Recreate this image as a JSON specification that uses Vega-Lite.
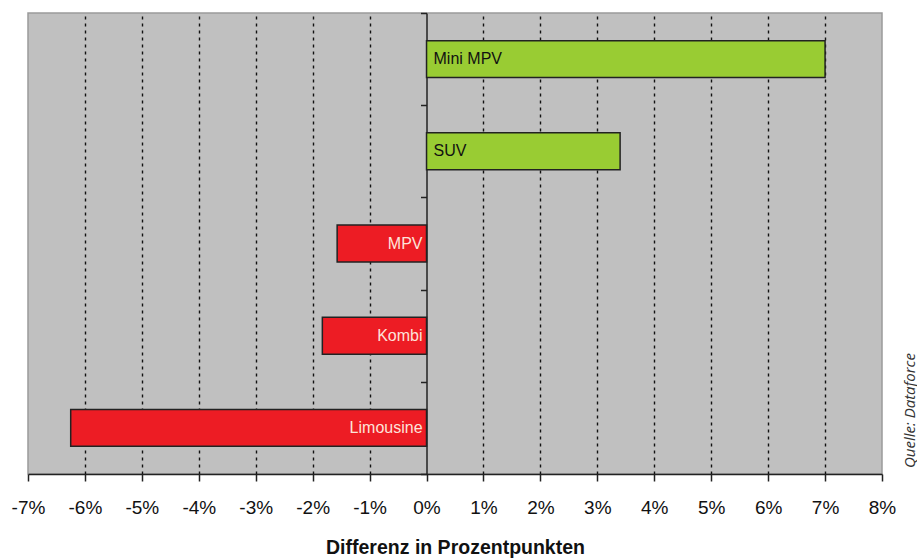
{
  "$schema": "https://vega.github.io/schema/vega-lite/v6.json",
  "width": 854,
  "height": 461,
  "autosize": {"type": "none"},
  "padding": {"left": 28, "top": 13, "right": 35, "bottom": 85},
  "background": "#ffffff",
  "config": {
    "font": "Liberation Sans",
    "view": {"fill": "#c0c0c0", "stroke": "#9a9a9a", "strokeWidth": 1.5}
  },
  "title": {
    "text": "Quelle: Dataforce",
    "orient": "right",
    "anchor": "end",
    "frame": "group",
    "angle": -90,
    "align": "left",
    "offset": -8,
    "dx": 6,
    "font": "Open Sans",
    "fontStyle": "italic",
    "fontWeight": "normal",
    "fontSize": 15,
    "color": "#333333"
  },
  "data": {
    "values": [
      {"segment": "Mini MPV", "value": 7.0},
      {"segment": "SUV", "value": 3.4},
      {"segment": "MPV", "value": -1.57},
      {"segment": "Kombi", "value": -1.83},
      {"segment": "Limousine", "value": -6.25}
    ]
  },
  "encoding": {
    "y": {
      "field": "segment",
      "type": "nominal",
      "sort": null,
      "scale": {"paddingInner": 0, "paddingOuter": 0},
      "axis": {
        "title": null,
        "labels": false,
        "offset": -398.5,
        "tickBand": "extent",
        "domainColor": "#222222",
        "domainWidth": 1.5,
        "tickColor": "#222222",
        "tickWidth": 1.5,
        "tickSize": 6,
        "grid": false
      }
    }
  },
  "layer": [
    {
      "mark": {"type": "bar", "stroke": "#222222", "strokeWidth": 1.5, "height": {"band": 0.4}},
      "encoding": {
        "x": {
          "field": "value",
          "type": "quantitative",
          "scale": {"domain": [-7, 8], "nice": false, "zero": false},
          "axis": {
            "title": "Differenz in Prozentpunkten",
            "titleFontSize": 19.5,
            "titleFontWeight": "bold",
            "titleColor": "#111111",
            "titlePadding": 21,
            "values": [-7, -6, -5, -4, -3, -2, -1, 0, 1, 2, 3, 4, 5, 6, 7, 8],
            "labelExpr": "datum.value + '%'",
            "labelFontSize": 19,
            "labelColor": "#111111",
            "labelPadding": 17,
            "labelFlush": false,
            "labelOverlap": false,
            "tickSize": 7,
            "tickColor": "#222222",
            "tickWidth": 1.5,
            "domainColor": "#222222",
            "domainWidth": 1.5,
            "grid": true,
            "gridColor": "#111111",
            "gridWidth": 1.4,
            "gridDash": [3, 4],
            "gridOpacity": {"condition": {"test": "datum.value == -7 || datum.value == 0 || datum.value == 8", "value": 0}, "value": 1}
          }
        },
        "x2": {"datum": 0},
        "color": {
          "condition": {"test": "datum.value > 0", "value": "#99cc33"},
          "value": "#ed1c24"
        }
      }
    },
    {
      "transform": [{"filter": "datum.value > 0"}],
      "mark": {"type": "text", "align": "left", "baseline": "middle", "dx": 7, "fontSize": 16, "color": "#111111"},
      "encoding": {
        "x": {"datum": 0, "type": "quantitative"},
        "text": {"field": "segment"}
      }
    },
    {
      "transform": [{"filter": "datum.value < 0"}],
      "mark": {"type": "text", "align": "right", "baseline": "middle", "dx": -4, "fontSize": 16, "color": "#fde3da"},
      "encoding": {
        "x": {"datum": 0, "type": "quantitative"},
        "text": {"field": "segment"}
      }
    }
  ]
}
